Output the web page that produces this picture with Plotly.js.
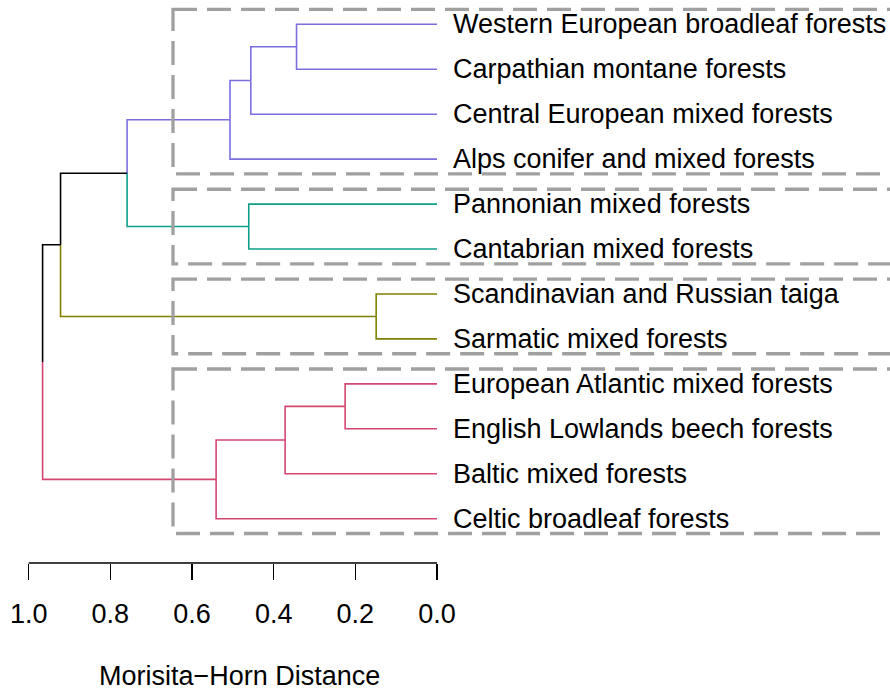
<!DOCTYPE html>
<html>
<head>
<meta charset="utf-8">
<script src="https://cdn.plot.ly/plotly-3.0.1.min.js"></script>
<style>
  html, body { margin: 0; padding: 0; background: #fff; }
  #chart { width: 890px; height: 691px; }
</style>
</head>
<body>
<div id="chart"></div>
<script>
// ---------------- DATA ----------------
const leafLabels = [
  'Western European broadleaf forests',
  'Carpathian montane forests',
  'Central European mixed forests',
  'Alps conifer and mixed forests',
  'Pannonian mixed forests',
  'Cantabrian mixed forests',
  'Scandinavian and Russian taiga',
  'Sarmatic mixed forests',
  'European Atlantic mixed forests',
  'English Lowlands beech forests',
  'Baltic mixed forests',
  'Celtic broadleaf forests'
];
// cluster membership of each leaf (k = 4)
const leafCluster = [1, 1, 1, 1, 2, 2, 3, 3, 4, 4, 4, 4];
// hclust-style merges: negative = leaf (1-based), positive = earlier merge step
const mergeLeft   = [-1, -9, -7,  1, -5,  2,  4,  6,  7,  9, 10];
const mergeRight  = [-2, -10, -8, -3, -6, -11, -4, -12, 5, 3, 8];
const mergeHeight = [0.344, 0.225, 0.149, 0.456, 0.461, 0.372, 0.507, 0.541, 0.759, 0.922, 0.966];
const tickValues = [1.0, 0.8, 0.6, 0.4, 0.2, 0.0];
const tickLabels = ['1.0', '0.8', '0.6', '0.4', '0.2', '0.0'];
const xTitle = 'Morisita\u2212Horn Distance';

// ---------------- STYLE ----------------
const clusterColors = {1: '#7B6FE0', 2: '#0FA08A', 3: '#808000', 4: '#D3466F'};
const mixedColor = '#000000';
const FONT = 'Liberation Sans, Arial, Helvetica, sans-serif';
const FS = 27;

// ---------------- BUILD TREE ----------------
const nodes = [];
function info(ref) {
  if (ref < 0) {
    return {x: 0, y: -ref, clusters: new Set([leafCluster[-ref - 1]])};
  }
  return nodes[ref - 1];
}
const buckets = {};
function push(color, xs, ys) {
  if (!buckets[color]) buckets[color] = {x: [], y: []};
  buckets[color].x.push(...xs, null);
  buckets[color].y.push(...ys, null);
}
for (let i = 0; i < mergeHeight.length; i++) {
  const a = info(mergeLeft[i]);
  const b = info(mergeRight[i]);
  const h = mergeHeight[i];
  const ny = (a.y + b.y) / 2;
  [a, b].forEach(c => {
    const col = c.clusters.size === 1 ? clusterColors[[...c.clusters][0]] : mixedColor;
    push(col, [h, h, c.x], [ny, c.y, c.y]);
  });
  const cl = new Set([...a.clusters, ...b.clusters]);
  nodes.push({x: h, y: ny, clusters: cl});
}

const traces = Object.keys(buckets).map(col => ({
  type: 'scatter', mode: 'lines',
  x: buckets[col].x, y: buckets[col].y,
  line: {color: col, width: 1.6},
  hoverinfo: 'skip', showlegend: false
}));

// cluster boxes
const shapes = [];
const clusterIds = [...new Set(leafCluster)];
clusterIds.forEach(k => {
  const idx = leafCluster.map((c, i) => c === k ? i + 1 : null).filter(v => v !== null);
  shapes.push({
    type: 'rect', xref: 'x', yref: 'y',
    x0: 0.6466, x1: -1.6,
    y0: Math.min(...idx) - 0.33, y1: Math.max(...idx) + 0.33,
    line: {color: '#A0A0A0', width: 3.3, dash: '24px,10px'},
    fillcolor: 'rgba(0,0,0,0)', layer: 'above'
  });
});
// axis line (only over the tick span)
shapes.push({
  type: 'line', xref: 'x', yref: 'paper',
  x0: tickValues[0], x1: tickValues[tickValues.length - 1], y0: 0, y1: 0,
  line: {color: '#000', width: 1.3}
});

const annotations = leafLabels.map((t, i) => ({
  x: 0, y: i + 1, xref: 'x', yref: 'y',
  text: t, showarrow: false, xanchor: 'left', yanchor: 'middle',
  xshift: 14, yshift: 0,
  font: {family: FONT, size: FS, color: '#000'}
}));
annotations.push({
  x: 0.484, y: -0.2036, xref: 'x', yref: 'paper',
  text: xTitle, showarrow: false, xanchor: 'center', yanchor: 'middle',
  yshift: 2,
  font: {family: FONT, size: FS, color: '#000'}
});

const layout = {
  width: 890, height: 691,
  margin: {l: 0, r: 0, t: 0, b: 128, pad: 0},
  paper_bgcolor: '#fff', plot_bgcolor: '#fff',
  showlegend: false,
  xaxis: {
    range: [1.0703, -1.1095],
    showgrid: false, zeroline: false, showline: false,
    tickmode: 'array', tickvals: tickValues, ticktext: tickLabels,
    ticks: 'outside', ticklen: 16, tickwidth: 1.3, tickcolor: '#000',
    ticklabelstandoff: 11,
    tickfont: {family: FONT, size: FS, color: '#000'},
    fixedrange: true
  },
  yaxis: {
    range: [12.986, 0.4593],
    visible: false, showgrid: false, zeroline: false, fixedrange: true
  },
  shapes: shapes,
  annotations: annotations
};

Plotly.newPlot('chart', traces, layout, {displayModeBar: false, staticPlot: true});
</script>
</body>
</html>
